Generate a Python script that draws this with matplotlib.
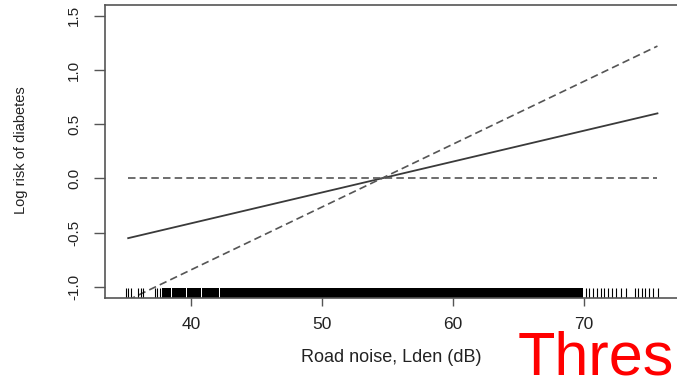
import numpy as np
import matplotlib
matplotlib.use("Agg")
import matplotlib.pyplot as plt

plt.rcParams["font.family"] = ["Liberation Sans", "DejaVu Sans"]

# fitted curves
noise_x = [35.2, 75.6]
solid_y = [-0.55, 0.60]
dashed_y = [-1.12, 1.22]
ref_y = [0.0, 0.0]

# rug: sparse observations at the tails and dense stretches in the middle
rug_left = [35.07, 35.2, 35.45, 35.98, 36.19, 36.3, 37.25, 37.43, 37.63]
rug_right = [70.15, 70.4, 70.71, 70.97, 71.27, 71.55, 71.86, 72.11, 72.44,
             72.8, 73.2, 73.89, 74.15, 74.4, 74.66, 74.98, 75.29, 75.63]
rug_dense = [(37.76, 38.46), (38.54, 39.63), (39.71, 40.76),
             (40.84, 42.16), (42.24, 69.95)]

xticks = [40, 50, 60, 70]
yticks = [-1.0, -0.5, 0.0, 0.5, 1.0, 1.5]

fig = plt.figure(figsize=(6.77, 3.76), dpi=100)
ax = fig.add_axes([0.1547, 0.2082, 0.8793, 0.7777])

ax.plot(noise_x, solid_y, color="#3a3a3a", lw=1.3)
ax.plot(noise_x, dashed_y, color="#555555", lw=1.2, dashes=(4.5, 2.5))
ax.plot(noise_x, ref_y, color="#555555", lw=1.2, dashes=(4.5, 2.5))

trans = ax.get_xaxis_transform()
ax.vlines(rug_left + rug_right, 0, 0.032, transform=trans, color="black", lw=0.8)
for a, b in rug_dense:
    ax.axvspan(a, b, ymin=0, ymax=0.032, color="black", lw=0)

ax.set_xlim(33.41, 78.85)
ax.set_ylim(-1.099, 1.596)
ax.set_xticks(xticks)
ax.set_yticks(yticks)
ax.set_yticklabels([f"{v:.1f}" for v in yticks], rotation=90, va="center")

for side in ["left", "bottom", "top", "right"]:
    ax.spines[side].set_color("#555555")
    ax.spines[side].set_linewidth(1.2)

ax.tick_params(axis="x", length=6, width=1, color="#555555", labelsize=12.5,
               pad=8, labelcolor="#222222")
ax.tick_params(axis="y", length=8, width=1, color="#555555", labelsize=11,
               pad=9, labelcolor="#222222")

fig.text(0.031, 0.505 * 0.7777 + 0.2082, "Log risk of diabetes", rotation=90,
         ha="center", va="center", fontsize=10.5, color="#222222")
fig.text(391 / 677, 1 - 358 / 376, "Road noise, Lden (dB)", ha="center",
         va="center", fontsize=13, color="#222222")

fig.text(518 / 677, 0.004, "Thres", color="#ff0000", fontsize=44,
         ha="left", va="baseline")

fig.savefig("out.png", dpi=100)
